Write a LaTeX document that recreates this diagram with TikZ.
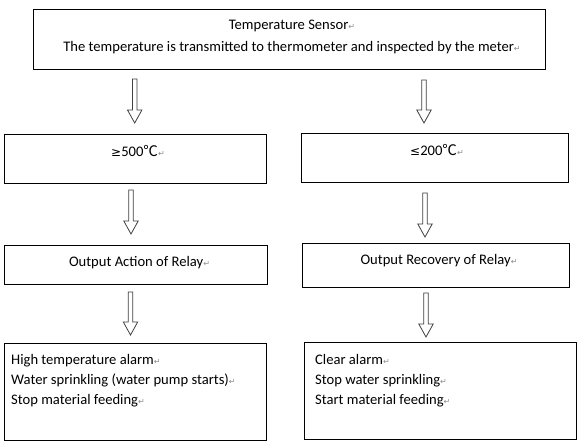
\documentclass[tikz,border=0pt]{standalone}
\usepackage{fontspec}
\setmainfont{Carlito}
\newfontfamily\symfont{DejaVu Sans}
\newfontfamily\cjkfont{Noto Sans CJK SC}
\usetikzlibrary{calc}
\newcommand\pmark{{\symfont\fontsize{8}{8}\selectfont\textcolor{black!45}{↵}}}
\newcommand\blockarrow[2]{%
  \draw[barrow] ($(#1)+(-2.3,0)$) -- ($(#2)+(-2.3,-13)$) -- ($(#2)+(-7.2,-13)$) -- (#2)
   -- ($(#2)+(7.2,-13)$) -- ($(#2)+(2.3,-13)$) -- ($(#1)+(2.3,0)$) -- cycle;}
\tikzset{
  box/.style={draw=black, line width=1pt, rectangle, inner sep=0pt},
  txt/.style={anchor=base, inner sep=0pt, font=\fontsize{14.6}{20}\selectfont, text=black},
  ltxt/.style={anchor=base west, inner sep=0pt, font=\fontsize{14.6}{20}\selectfont, text=black},
  barrow/.style={draw=black!75, fill=white, line width=0.8pt, line join=miter},
}
\begin{document}
\begin{tikzpicture}[x=1pt, y=-1pt]
\useasboundingbox[fill=white] (0,0) rectangle (582,447);
% boxes
\node[box, minimum width=512pt, minimum height=60pt] (top) at (289,39) {};
\node[box, minimum width=262pt, minimum height=49pt] (l2) at (135,158.5) {};
\node[box, minimum width=267pt, minimum height=49pt] (r2) at (434.5,157.5) {};
\node[box, minimum width=263pt, minimum height=39pt] (l3) at (135.5,264.5) {};
\node[box, minimum width=267pt, minimum height=44pt] (r3) at (435.5,265) {};
\node[box, minimum width=262pt, minimum height=97pt] (l4) at (135,391.5) {};
\node[box, minimum width=272pt, minimum height=97pt] (r4) at (440,390.5) {};
% texts
\node[txt] (t1) at (292,30) {Temperature Sensor\pmark};
\node[txt] (t2) at (292,52) {The temperature is transmitted to thermometer and inspected by the meter\pmark};
\node[txt] (l2t) at (138,156) {{\symfont\fontsize{12}{12}\selectfont ≥}500{\cjkfont ℃}\pmark};
\node[txt] (r2t) at (437,155) {{\symfont\fontsize{12}{12}\selectfont ≤}200{\cjkfont ℃}\pmark};
\node[txt] (l3t) at (139.5,266) {Output Action of Relay\pmark};
\node[txt] (r3t) at (439,264) {Output Recovery of Relay\pmark};
\node[ltxt] (l4a) at (11,364) {High temperature alarm\pmark};
\node[ltxt] (l4b) at (11,384) {Water sprinkling (water pump starts)\pmark};
\node[ltxt] (l4c) at (11,404) {Stop material feeding\pmark};
\node[ltxt] (r4a) at (315,364) {Clear alarm\pmark};
\node[ltxt] (r4b) at (315,384) {Stop water sprinkling\pmark};
\node[ltxt] (r4c) at (315,404) {Start material feeding\pmark};
% arrow ends
\coordinate (a1ls) at (134.7,79);  \coordinate (a1lt) at (134.7,123);
\coordinate (a1rs) at (424,80);    \coordinate (a1rt) at (424,123);
\coordinate (a2ls) at (131,190);   \coordinate (a2lt) at (131,234);
\coordinate (a2rs) at (425,193);   \coordinate (a2rt) at (425,237);
\coordinate (a3ls) at (130.5,292); \coordinate (a3lt) at (130.5,335);
\coordinate (a3rs) at (426,293);   \coordinate (a3rt) at (426,337);
\blockarrow{a1ls}{a1lt}
\blockarrow{a1rs}{a1rt}
\blockarrow{a2ls}{a2lt}
\blockarrow{a2rs}{a2rt}
\blockarrow{a3ls}{a3lt}
\blockarrow{a3rs}{a3rt}
\end{tikzpicture}
\end{document}
